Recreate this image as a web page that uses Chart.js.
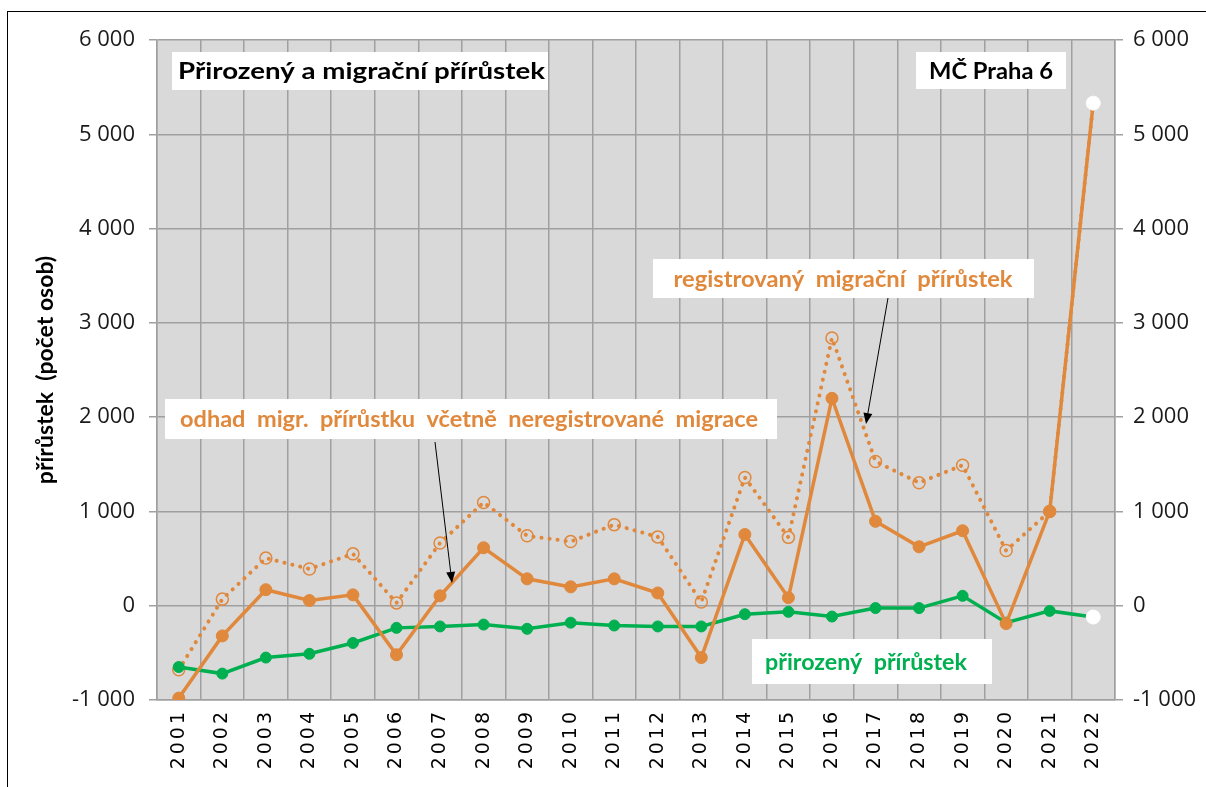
<!DOCTYPE html>
<html>
<head>
<meta charset="utf-8">
<script src="https://cdn.jsdelivr.net/npm/chart.js@4.4.1/dist/chart.umd.min.js"></script>
<style>
    html, body { margin: 0; padding: 0; background: #fff; overflow: hidden; }
    #wrap { position: relative; width: 1206px; height: 787px; }
    #frame { position: absolute; left: 7px; top: 11px; width: 1300px; height: 900px;
             border-left: 1.5px solid #000; border-top: 1.5px solid #000; pointer-events: none; }
    canvas { position: absolute; left: 0; top: 0; }
</style>
</head>
<body>
<div id="wrap">
    <canvas id="chart" width="1206" height="787"></canvas>
    <div id="frame"></div>
</div>
<script>
// Data
const years = ['2001', '2002', '2003', '2004', '2005', '2006', '2007', '2008', '2009', '2010', '2011',
               '2012', '2013', '2014', '2015', '2016', '2017', '2018', '2019', '2020', '2021', '2022'];
const natural = [-650, -720, -550, -510, -395, -235, -220, -200, -245, -180, -210,
                 -220, -220, -90, -65, -115, -25, -25, 105, -180, -55, -120];
const registered = [-980, -320, 170, 55, 115, -520, 105, 615, 285, 200, 285,
                    135, -550, 755, 85, 2200, 895, 625, 795, -190, 1000, 5330];
const estimated = [-680, 70, 505, 390, 550, 30, 665, 1095, 742, 680, 860,
                   730, 40, 1360, 725, 2840, 1530, 1305, 1490, 585, 1000, 5330];
const yMin = -1000;
const yMax = 6000;
const yStep = 1000;

const ORANGE = '#e0883c';
const GREEN = '#00b050';
const GRID = '#a0a0a0';

// last year (2022) is shown with white markers
function lastWhite(color) {
    return years.map((y, i) => i === years.length - 1 ? '#ffffff' : color);
}

function formatThousands(v) {
    const s = String(Math.abs(v)).replace(/\B(?=(\d{3})+(?!\d))/g, ' ');
    return (v < 0 ? '-' : '') + s;
}

// grey plot background
const plotBackground = {
    id: 'plotBackground',
    beforeDraw(chart) {
        const { ctx, chartArea } = chart;
        ctx.save();
        ctx.fillStyle = '#d9d9d9';
        ctx.fillRect(chartArea.left, chartArea.top, chartArea.right - chartArea.left, chartArea.bottom - chartArea.top);
        ctx.restore();
    }
};

// wider spacing for the year labels
const yearSpacing = {
    id: 'yearSpacing',
    afterLayout(chart) {
        const xs = chart.scales.x;
        if (xs._spaced) return;
        const orig = xs.drawLabels;
        xs.drawLabels = function(area) {
            chart.ctx.save();
            chart.ctx.letterSpacing = '3px';
            orig.call(this, area);
            chart.ctx.restore();
        };
        xs._spaced = true;
    }
};

// text boxes and arrows
const notes = [
    { text: 'Přirozený a migrační přírůstek', color: '#000', box: [172, 52, 376, 38], tx: 178, w: 367, align: 'left' },
    { text: 'MČ Praha 6', color: '#000', box: [916, 52, 150, 37], tx: 991, w: 124, align: 'center' },
    { text: 'registrovaný  migrační  přírůstek', color: ORANGE, box: [653, 259, 381, 39], tx: 843, w: 339, align: 'center' },
    { text: 'odhad  migr.  přírůstku  včetně  neregistrované  migrace', color: ORANGE, box: [165, 399, 612, 40], tx: 469, w: 578, align: 'center' },
    { text: 'přirozený  přírůstek', color: GREEN, box: [752, 639, 240, 45], tx: 866, w: 202, align: 'center' }
];
const arrows = [
    { from: [435, 442], to: [452, 583] },
    { from: [888, 298], to: [866, 424] }
];

const annotations = {
    id: 'annotations',
    afterDraw(chart) {
        const ctx = chart.ctx;
        ctx.save();
        notes.forEach(n => {
            const [bx, by, bw, bh] = n.box;
            ctx.fillStyle = '#ffffff';
            ctx.fillRect(bx, by, bw, bh);
            ctx.font = 'bold 22px Lato';
            ctx.fillStyle = n.color;
            ctx.textBaseline = 'middle';
            const mw = ctx.measureText(n.text).width;
            const k = n.w / mw;
            ctx.save();
            const cy = by + bh / 2 + 1;
            ctx.translate(n.tx, cy);
            ctx.scale(k, 1);
            ctx.textAlign = n.align;
            ctx.fillText(n.text, 0, 0);
            ctx.restore();
        });
        arrows.forEach(a => {
            const [x1, y1] = a.from;
            const [x2, y2] = a.to;
            const ang = Math.atan2(y2 - y1, x2 - x1);
            ctx.strokeStyle = '#000';
            ctx.fillStyle = '#000';
            ctx.lineWidth = 1;
            ctx.beginPath();
            ctx.moveTo(x1, y1);
            ctx.lineTo(x2 - 8 * Math.cos(ang), y2 - 8 * Math.sin(ang));
            ctx.stroke();
            ctx.beginPath();
            ctx.moveTo(x2, y2);
            ctx.lineTo(x2 - 11 * Math.cos(ang) + 4.5 * Math.sin(ang), y2 - 11 * Math.sin(ang) - 4.5 * Math.cos(ang));
            ctx.lineTo(x2 - 11 * Math.cos(ang) - 4.5 * Math.sin(ang), y2 - 11 * Math.sin(ang) + 4.5 * Math.cos(ang));
            ctx.closePath();
            ctx.fill();
        });
        ctx.restore();
    }
};

const tickFont = { family: 'Open Sans', size: 22 };

new Chart(document.getElementById('chart'), {
    type: 'line',
    data: {
        labels: years,
        datasets: [
            {
                label: 'registrovaný migrační přírůstek',
                data: registered,
                borderColor: ORANGE,
                borderWidth: 3.5,
                tension: 0,
                pointRadius: years.map((y, i) => i === years.length - 1 ? 7 : 6),
                pointBackgroundColor: lastWhite(ORANGE),
                pointBorderColor: lastWhite(ORANGE),
                pointBorderWidth: 1,
                order: 1
            },
            {
                label: 'přirozený přírůstek',
                data: natural,
                borderColor: GREEN,
                borderWidth: 3.5,
                tension: 0,
                pointRadius: years.map((y, i) => i === years.length - 1 ? 7 : 5.5),
                pointBackgroundColor: lastWhite(GREEN),
                pointBorderColor: lastWhite(GREEN),
                pointBorderWidth: 1,
                order: 2
            },
            {
                label: 'odhad migr. přírůstku včetně neregistrované migrace',
                data: estimated,
                borderColor: ORANGE,
                borderWidth: 4,
                borderDash: [0.1, 8],
                borderCapStyle: 'round',
                tension: 0,
                pointRadius: 6,
                pointStyle: 'circle',
                pointBackgroundColor: 'rgba(0,0,0,0)',
                pointBorderColor: ORANGE,
                pointBorderWidth: 1.5,
                order: 3
            }
        ]
    },
    options: {
        responsive: false,
        animation: false,
        layout: { padding: { top: 40, left: 0, right: 0, bottom: 0 } },
        plugins: {
            legend: { display: false },
            tooltip: { enabled: false }
        },
        scales: {
            x: {
                offset: true,
                grid: { offset: true, color: GRID, lineWidth: 1.5, drawTicks: false },
                border: { color: GRID, width: 1.5 },
                ticks: {
                    minRotation: 90,
                    maxRotation: 90,
                    autoSkip: false,
                    padding: 9,
                    color: '#000',
                    font: { family: 'DejaVu Sans', size: 19 }
                },
                afterFit(scale) { scale.height = 87; }
            },
            y: {
                position: 'left',
                min: yMin,
                max: yMax,
                grid: { color: GRID, lineWidth: 1.5, tickLength: 8 },
                border: { color: GRID, width: 1.5 },
                ticks: {
                    stepSize: yStep,
                    padding: 14,
                    color: '#1a1a1a',
                    font: tickFont,
                    callback: v => formatThousands(v)
                },
                title: {
                    display: true,
                    text: 'přírůstek  (počet osob)',
                    color: '#000',
                    font: { family: 'Lato', size: 23, weight: 'bold' },
                    padding: { top: 32, bottom: 0 }
                },
                afterFit(scale) { scale.width = 157; }
            },
            y2: {
                position: 'right',
                min: yMin,
                max: yMax,
                grid: { drawOnChartArea: false, color: GRID, lineWidth: 1.5, tickLength: 8 },
                border: { color: GRID, width: 1.5 },
                ticks: {
                    stepSize: yStep,
                    padding: 10,
                    color: '#1a1a1a',
                    font: tickFont,
                    callback: v => formatThousands(v)
                },
                afterFit(scale) { scale.width = 91; }
            }
        }
    },
    plugins: [plotBackground, yearSpacing, annotations]
});
</script>
</body>
</html>
